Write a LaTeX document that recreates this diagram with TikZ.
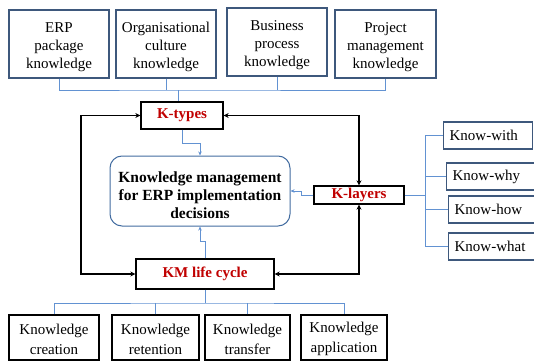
\documentclass[tikz,border=0pt]{standalone}
\usepackage{fontspec}
\setmainfont{Liberation Serif}
\usetikzlibrary{arrows.meta}
\definecolor{boxblue}{RGB}{62,88,124}
\definecolor{linkblue}{RGB}{98,146,210}
\definecolor{coreblue}{RGB}{66,108,160}
\definecolor{kred}{RGB}{192,0,0}
% invisible strut that lowers a multi-line text block by #1
\newcommand\lowerby[1]{\rule{0pt}{\dimexpr10.3pt+2\dimexpr#1\relax\relax}}
\begin{document}
\begin{tikzpicture}[x=1pt,y=-1pt,
  every node/.style={font=\fontsize{15}{18}\selectfont, inner sep=0pt, align=center},
  topbox/.style={draw=boxblue, line width=1.3pt, minimum width=100pt, minimum height=68pt},
  kbox/.style={draw=black, line width=1.3pt, text=kred, font=\fontsize{15}{18}\selectfont\bfseries},
  layerbox/.style={draw=boxblue, line width=1.3pt, anchor=west, minimum height=27pt, inner xsep=6pt, align=left},
  cyclebox/.style={draw=black, line width=1.3pt, minimum height=45pt, font=\fontsize{15}{20}\selectfont},
  coreshape/.style={draw=coreblue, line width=1pt, rounded corners=12pt, minimum width=180pt, minimum height=70pt, font=\fontsize{15.5}{18}\selectfont\bfseries},
  blueline/.style={draw=linkblue, line width=0.9pt},
  bluearrow/.style={blueline, -{Stealth[length=4pt,width=3.5pt]}},
  loopline/.style={draw=black, line width=1.8pt, {Stealth[length=5pt,width=5pt]}-{Stealth[length=5pt,width=5pt]}}
]
\useasboundingbox (0,0) rectangle (534,361);
\clip (0,0) rectangle (534,361);

% knowledge types
\node[topbox] (erp) at (59,44) {\lowerby{2.5pt}ERP\\package\\knowledge};
\node[topbox] (org) at (166,44) {\lowerby{2.5pt}Organisational\\culture\\knowledge};
\node[topbox] (bus) at (277,42) {\lowerby{2.5pt}Business\\process\\knowledge};
\node[topbox, minimum width=101pt] (pm) at (385.5,44) {\lowerby{2.5pt}Project\\management\\knowledge};

% hub boxes
\node[kbox, minimum width=82pt, minimum height=27pt] (ktypes) at (182,115.5) {K-types};
\node[coreshape] (core) at (200,191) {\lowerby{4.5pt}Knowledge management\\for ERP implementation\\decisions};
\node[kbox, minimum width=90pt, minimum height=18pt] (klayers) at (359,195) {K-layers};
\node[kbox, minimum width=138pt, minimum height=30pt] (km) at (205,274) {KM life cycle};

% knowledge layers
\node[layerbox, text width=77pt] (with) at (443,135.5) {Know-with};
\node[layerbox, text width=90pt] (why) at (446,176.5) {Know-why};
\node[layerbox, text width=90pt] (how) at (448,209.5) {Know-how};
\node[layerbox, text width=90pt] (what) at (448,246.5) {Know-what};

% life cycle stages
\node[cyclebox, minimum width=90pt] (create) at (54,337.5) {\lowerby{1.5pt}Knowledge\\creation};
\node[cyclebox, minimum width=87pt] (retain) at (155.5,337.5) {\lowerby{1.5pt}Knowledge\\retention};
\node[cyclebox, minimum width=85pt] (transfer) at (247.5,337.5) {\lowerby{1.5pt}Knowledge\\transfer};
\node[cyclebox, minimum width=86pt] (apply) at (344,337.5) {\lowerby{1.5pt}Knowledge\\application};

% top bus into K-types
\coordinate (tbus) at (178,90);
\draw[blueline] (erp.south) |- (tbus) -| (pm.south);
\draw[blueline] (org.south) -- (org.south |- tbus);
\draw[blueline] (bus.south) -- (bus.south |- tbus);
\draw[blueline] (tbus) -- (tbus |- ktypes.north);

% bottom bus from KM life cycle
\coordinate (bbus) at (205,303);
\draw[blueline] (km.south) -- (bbus);
\draw[blueline] (create.north) |- (bbus) -| (apply.north);
\draw[blueline] (retain.north) -- (retain.north |- bbus);
\draw[blueline] (transfer.north) -- (transfer.north |- bbus);

% layer branches
\coordinate (spine) at (425,195);
\draw[blueline] (klayers.east) -- (spine);
\foreach \n in {with,why,how,what}
  \draw[blueline] (spine) |- (\n.west);

% feeds into the core
\draw[bluearrow] (ktypes.south) -- ++(0,14) -| (core.north);
\draw[bluearrow] (klayers.west) -- ++(-12,0) |- (core.east);
\draw[bluearrow] (km.north) -- ++(0,-17) -| (core.south);

% black cycle
\coordinate (lx) at (81,0);
\draw[loopline] (ktypes.west) -- (ktypes.west -| lx) -- (km.west -| lx) -- (km.west);
\draw[loopline] (ktypes.east) -| (klayers.north);
\draw[loopline] (klayers.south) |- (km.east);
\end{tikzpicture}
\end{document}
